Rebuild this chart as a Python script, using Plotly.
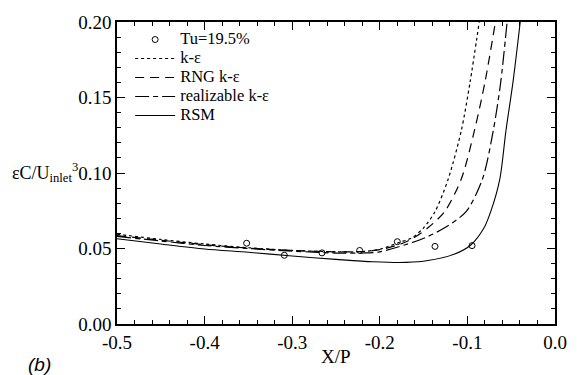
import plotly.graph_objects as go

# Experimental data (Tu=19.5%)
exp_x = [-0.352, -0.309, -0.266, -0.223, -0.180, -0.137, -0.0947]
exp_y = [0.0535, 0.0455, 0.0471, 0.0487, 0.0545, 0.0514, 0.0519]

# k-epsilon
ke_x = [-0.5, -0.45, -0.4, -0.35, -0.3, -0.25, -0.22, -0.2, -0.178, -0.163, -0.15, -0.137, -0.122, -0.107, -0.097, -0.0865]
ke_y = [0.0595, 0.0560, 0.0530, 0.0505, 0.0487, 0.0478, 0.0480, 0.0495, 0.0540, 0.0572, 0.0637, 0.0744, 0.0958, 0.128, 0.160, 0.200]

# RNG k-epsilon
rng_x = [-0.5, -0.45, -0.4, -0.35, -0.3, -0.25, -0.22, -0.2, -0.176, -0.1615, -0.145, -0.126, -0.107, -0.092, -0.080, -0.068]
rng_y = [0.0585, 0.0555, 0.0525, 0.0503, 0.0487, 0.0478, 0.0480, 0.0492, 0.0530, 0.0570, 0.0637, 0.0744, 0.096, 0.128, 0.160, 0.200]

# realizable k-epsilon
rke_x = [-0.5, -0.45, -0.4, -0.35, -0.3, -0.25, -0.22, -0.2, -0.171, -0.148, -0.126, -0.1015, -0.0828, -0.0705, -0.062, -0.0547]
rke_y = [0.058, 0.055, 0.052, 0.050, 0.0483, 0.047, 0.047, 0.0478, 0.0525, 0.0572, 0.0637, 0.0744, 0.096, 0.128, 0.160, 0.200]

# RSM
rsm_x = [-0.5, -0.45, -0.4, -0.35, -0.3, -0.25, -0.208, -0.17, -0.145, -0.1146, -0.0958, -0.081, -0.0734, -0.063, -0.056, -0.048, -0.0397]
rsm_y = [0.0565, 0.0530, 0.0497, 0.0475, 0.0450, 0.0428, 0.0412, 0.0408, 0.0420, 0.0463, 0.0525, 0.0637, 0.0744, 0.096, 0.128, 0.160, 0.200]

x_ticks = [-0.5, -0.4, -0.3, -0.2, -0.1, 0.0]
x_labels = ["-0.5", "-0.4", "-0.3", "-0.2", "-0.1", "0.0"]
y_ticks = [0.00, 0.05, 0.10, 0.15, 0.20]
y_labels = ["0.00", "0.05", "0.10", "0.15", "0.20"]

series_names = ["Tu=19.5%", "k-ε", "RNG k-ε", "realizable k-ε", "RSM"]

FONT = "Liberation Serif, Times New Roman, serif"


def lg(name):
    return '<span style="font-size:16.5px">' + name + '</span>'


fig = go.Figure()
fig.add_trace(go.Scatter(x=exp_x, y=exp_y, mode="markers", name=lg(series_names[0]),
                         marker=dict(symbol="circle-open", size=6, color="black", line=dict(width=1))))
fig.add_trace(go.Scatter(x=ke_x, y=ke_y, mode="lines", name=lg(series_names[1]),
                         line=dict(color="black", width=1.2, dash="3px,3px", shape="spline", smoothing=0.8)))
fig.add_trace(go.Scatter(x=rng_x, y=rng_y, mode="lines", name=lg(series_names[2]),
                         line=dict(color="black", width=1.2, dash="9px,6px", shape="spline", smoothing=0.8)))
fig.add_trace(go.Scatter(x=rke_x, y=rke_y, mode="lines", name=lg(series_names[3]),
                         line=dict(color="black", width=1.2, dash="14px,4px,5px,4px", shape="spline", smoothing=0.8)))
fig.add_trace(go.Scatter(x=rsm_x, y=rsm_y, mode="lines", name=lg(series_names[4]),
                         line=dict(color="black", width=1.1, shape="spline", smoothing=0.8)))

axis_common = dict(showgrid=False, zeroline=False, showline=True, linecolor="black", linewidth=1.5,
                   mirror="ticks", ticks="inside", tickcolor="black", tickwidth=1.2, ticklen=8,
                   tickfont=dict(family=FONT, size=19, color="black"))
fig.update_xaxes(range=[-0.5, 0.0], tickvals=x_ticks, ticktext=x_labels,
                 minor=dict(ticks="inside", ticklen=4, dtick=0.02, tickcolor="black", tickwidth=1.2),
                 **axis_common)
fig.update_yaxes(range=[0.0, 0.20], tickvals=y_ticks, ticktext=y_labels,
                 minor=dict(ticks="inside", ticklen=4, dtick=0.01, tickcolor="black", tickwidth=1.2),
                 **axis_common)

W, H = 579, 375
l, r, t, b = 117, 17, 12, 51
pw, ph = W - l - r, H - t - b


def px_x(px):
    return (px - l) / pw


def px_y(py):
    return (H - b - py) / ph


fig.update_layout(
    width=W, height=H,
    margin=dict(l=l, r=r, t=t, b=b),
    paper_bgcolor="white", plot_bgcolor="white",
    showlegend=True,
    legend=dict(x=0.03, y=0.99, xanchor="left", yanchor="top", bgcolor="rgba(0,0,0,0)",
                font=dict(family=FONT, size=11, color="black"), itemwidth=40,
                tracegroupgap=0, itemclick=False),
    annotations=[
        dict(text="εC/U<sub>inlet</sub><sup>3</sup>", x=px_x(8), y=px_y(167), xref="paper", yref="paper",
             showarrow=False, xanchor="left", yanchor="middle",
             font=dict(family=FONT, size=18, color="black")),
        dict(text="X/P", x=px_x(340), y=px_y(358), xref="paper", yref="paper", showarrow=False,
             xanchor="center", yanchor="middle",
             font=dict(family=FONT, size=19, color="black")),
        dict(text="<i>(b)</i>", x=px_x(38), y=px_y(366), xref="paper", yref="paper", showarrow=False,
             xanchor="center", yanchor="middle",
             font=dict(family="Liberation Sans, Arial, sans-serif", size=19, color="black")),
    ],
)

fig.write_html("out.html")
